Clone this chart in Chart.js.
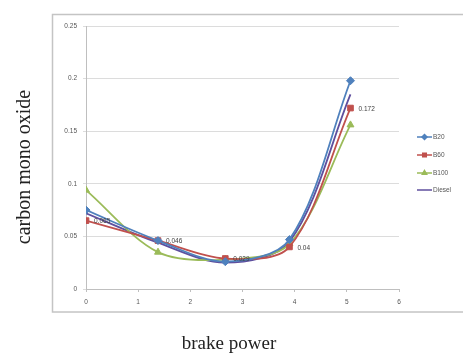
<!DOCTYPE html>
<html lang="en">
<head>
  <meta charset="UTF-8">
  <title>carbon mono oxide vs brake power</title>
  <script src="https://cdn.jsdelivr.net/npm/chart.js"></script>
  <style>
    html, body { margin: 0; padding: 0; background: #fff; }
    #wrap { width: 463px; height: 353px; position: relative; }
  </style>
</head>
<body>
  <div id="wrap"><canvas id="grafico" width="463" height="353"></canvas></div>

<script>
// data
const brakePower = [0, 1.38, 2.67, 3.9, 5.07];
const b20    = [0.075, 0.046, 0.026, 0.047, 0.198];
const b60    = [0.065, 0.046, 0.029, 0.04, 0.172];
const b100   = [0.094, 0.035, 0.028, 0.043, 0.156];
const diesel = [0.072, 0.044, 0.025, 0.045, 0.185];
const seriesNames = ['B20', 'B60', 'B100', 'Diesel'];
const yTicks = [0, 0.05, 0.1, 0.15, 0.2, 0.25];
const xTicks = [0, 1, 2, 3, 4, 5, 6];

const colors = ['#4f81bd', '#c0504d', '#9bbb59', '#5f4f9e'];
const markers = ['rectRot', 'rect', 'triangle', false];

const pts = arr => arr.map((v, i) => ({ x: brakePower[i], y: v }));

const serie = (name, arr, i) => ({
  label: name,
  data: pts(arr),
  borderColor: colors[i],
  backgroundColor: colors[i],
  borderWidth: 1.8,
  tension: 0.32,
  pointStyle: markers[i],
  pointRadius: markers[i] ? 4 : 0,
  pointBorderWidth: 1
});

// frame, titles, legend and data labels
const extras = {
  id: 'extras',
  beforeDraw(chart) {
    const c = chart.ctx;
    c.save();
    c.strokeStyle = '#c4c4c4';
    c.lineWidth = 1.5;
    c.strokeRect(52.5, 14.5, 430, 297.5);
    c.restore();
  },
  afterDatasetsDraw(chart) {
    const c = chart.ctx;
    c.save();
    // B60 value labels
    c.font = '6.5px "Liberation Sans", Arial, sans-serif';
    c.fillStyle = '#404040';
    c.textBaseline = 'middle';
    c.textAlign = 'left';
    chart.getDatasetMeta(1).data.forEach((p, i) => {
      c.fillText(String(b60[i]), p.x + 8, p.y + 1);
    });

    // legend
    const ly = [137, 155, 173, 190];
    seriesNames.forEach((n, i) => {
      c.strokeStyle = colors[i];
      c.lineWidth = 1.5;
      c.beginPath();
      c.moveTo(417, ly[i]);
      c.lineTo(432, ly[i]);
      c.stroke();
      if (markers[i]) {
        c.fillStyle = colors[i];
        Chart.helpers.drawPoint(c, { pointStyle: markers[i], radius: 2.5, borderWidth: 1 }, 424.5, ly[i]);
        c.fill();
      }
      c.fillStyle = '#555';
      c.font = '6.5px "Liberation Sans", Arial, sans-serif';
      c.textBaseline = 'middle';
      c.textAlign = 'left';
      c.fillText(n, 433, ly[i]);
    });

    // axis titles
    c.fillStyle = '#222';
    c.font = '19px "Liberation Serif", "Times New Roman", serif';
    c.textAlign = 'center';
    c.textBaseline = 'middle';
    c.fillText('brake power', 229, 344);
    c.translate(25, 167);
    c.rotate(-Math.PI / 2);
    c.font = '20px "Liberation Serif", "Times New Roman", serif';
    c.fillText('carbon mono oxide', 0, 0);
    c.restore();
  }
};

const tickFont = { family: '"Liberation Sans", Arial, sans-serif', size: 6.5 };

new Chart(document.getElementById('grafico'), {
  type: 'line',
  data: {
    datasets: [
      serie('B20', b20, 0),
      serie('B60', b60, 1),
      serie('B100', b100, 2),
      serie('Diesel', diesel, 3)
    ]
  },
  options: {
    responsive: false,
    animation: false,
    layout: { padding: { top: 26, right: 64, left: 0, bottom: 0 } },
    plugins: { legend: { display: false }, tooltip: { enabled: false } },
    scales: {
      x: {
        type: 'linear',
        min: 0, max: 6,
        afterBuildTicks: s => { s.ticks = xTicks.map(v => ({ value: v })); },
        afterFit: s => { s.height = 64; },
        ticks: { font: tickFont, color: '#555', padding: 6 },
        grid: { drawOnChartArea: false, color: '#bfbfbf', tickLength: 3 },
        border: { color: '#bfbfbf' }
      },
      y: {
        min: 0, max: 0.25,
        afterBuildTicks: s => { s.ticks = yTicks.map(v => ({ value: v })); },
        afterFit: s => { s.width = 86; },
        ticks: {
          font: tickFont, color: '#555', padding: 6,
          callback: v => String(Number(v.toFixed(2)))
        },
        grid: { color: '#dcdcdc', tickLength: 3, lineWidth: 1 },
        border: { color: '#bfbfbf' }
      }
    }
  },
  plugins: [extras]
});
</script>
</body>
</html>
